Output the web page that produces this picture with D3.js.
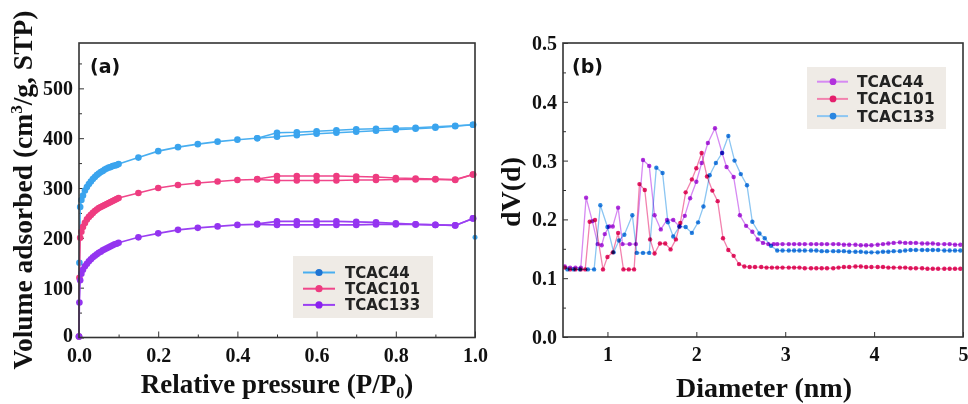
<!DOCTYPE html>
<html><head><meta charset="utf-8">
<script src="https://cdn.jsdelivr.net/npm/d3@7"></script>
<style>body{margin:0;background:#fff}svg{display:block}</style>
</head><body>
<svg id="c" width="968" height="404"></svg>
<script>
// ---------------- DATA ----------------
// Panel (a): N2 isotherms
const isoNames = ["TCAC44", "TCAC101", "TCAC133"];
const pAds = [0, 0.001, 0.003, 0.006,
  0.01, 0.015, 0.02, 0.025, 0.03, 0.035, 0.04, 0.045, 0.05, 0.055, 0.06, 0.065, 0.07, 0.075, 0.08, 0.085, 0.09, 0.095, 0.1,
  0.15, 0.2, 0.25, 0.3, 0.35, 0.4, 0.45, 0.5, 0.55, 0.6, 0.65, 0.7, 0.75, 0.8, 0.85, 0.9, 0.95, 0.995];
const pDes = [0.995, 0.95, 0.9, 0.85, 0.8, 0.75, 0.7, 0.65, 0.6, 0.55, 0.5, 0.45];
const ads44 = [2, 150, 262, 276,
  285, 295, 302, 308, 313, 318, 322, 326, 329, 332, 334, 337, 339, 341, 342, 344, 345, 346, 348,
  361, 374, 382, 388, 393, 397, 400, 403, 406, 409, 411, 413, 415, 417, 419, 421, 424, 427];
const des44 = [427, 425, 423, 421, 420, 419, 418, 416, 414, 412, 411, 400];
const ads101 = [2, 120, 200, 212,
  222, 230, 237, 242, 246, 250, 254, 257, 260, 262, 264, 266, 268, 270, 272, 274, 276, 278, 280,
  290, 300, 306, 310, 313, 316, 317, 315, 315, 315, 315, 316, 316, 317, 317, 317, 316, 327];
const des101 = [327, 317, 318, 319, 320, 322, 323, 324, 324, 324, 324, 318];
const ads133 = [2, 70, 115, 128,
  136, 143, 148, 153, 157, 161, 164, 167, 170, 172, 175, 177, 179, 181, 183, 185, 187, 188, 190,
  201, 209, 216, 220, 223, 226, 227, 226, 226, 226, 226, 226, 227, 227, 227, 226, 225, 239];
const des133 = [239, 225, 226, 227, 229, 231, 232, 233, 233, 233, 233, 228];
const strayP44 = [1.0];
const strayV44 = [201];
const xTicksA = [0, 0.2, 0.4, 0.6, 0.8, 1.0];
const yTicksA = [0, 100, 200, 300, 400, 500];

// Panel (b): pore size distribution
const psdNames = ["TCAC44", "TCAC101", "TCAC133"];
const d44 = [0.52, 0.58, 0.64, 0.70, 0.76, 0.83, 0.89, 0.935, 0.97, 1.02, 1.06, 1.12, 1.17, 1.25, 1.32, 1.40, 1.47, 1.53, 1.60, 1.67,
  1.74, 1.81, 1.87, 1.93, 2.00, 2.06, 2.13, 2.21, 2.29, 2.34, 2.42, 2.49, 2.56, 2.63, 2.69, 2.75, 2.81, 2.87];
const v44 = [0.120, 0.118, 0.118, 0.118, 0.237, 0.197, 0.158, 0.156, 0.175, 0.188, 0.188, 0.220, 0.158, 0.158, 0.158, 0.301, 0.291, 0.207, 0.183, 0.199,
  0.199, 0.188, 0.206, 0.236, 0.264, 0.296, 0.330, 0.355, 0.313, 0.289, 0.272, 0.207, 0.189, 0.179, 0.166, 0.160, 0.158, 0.158];
const d101 = [0.52, 0.58, 0.64, 0.70, 0.75, 0.80, 0.86, 0.95, 1.00, 1.06, 1.12, 1.18, 1.24, 1.30, 1.36, 1.42, 1.48, 1.53, 1.59, 1.65,
  1.71, 1.77, 1.82, 1.88, 1.95, 2.00, 2.06, 2.12, 2.18, 2.24, 2.30, 2.36, 2.42, 2.48, 2.54, 2.60, 2.66, 2.73, 2.79, 2.85];
const v101 = [0.118, 0.115, 0.115, 0.115, 0.115, 0.196, 0.199, 0.115, 0.136, 0.144, 0.177, 0.115, 0.115, 0.115, 0.260, 0.250, 0.166, 0.142, 0.159, 0.159,
  0.149, 0.166, 0.194, 0.246, 0.268, 0.287, 0.313, 0.273, 0.249, 0.231, 0.168, 0.148, 0.138, 0.124, 0.120, 0.119, 0.119, 0.119, 0.118, 0.118];
const d133 = [0.55, 0.62, 0.69, 0.78, 0.85, 0.92, 1.00, 1.07, 1.13, 1.19, 1.28, 1.33, 1.40, 1.47, 1.55, 1.62, 1.68, 1.74, 1.81, 1.88,
  1.95, 2.02, 2.08, 2.15, 2.22, 2.29, 2.36, 2.43, 2.50, 2.57, 2.63, 2.71, 2.77, 2.84];
const v133 = [0.115, 0.115, 0.115, 0.115, 0.115, 0.224, 0.187, 0.144, 0.164, 0.174, 0.207, 0.143, 0.143, 0.143, 0.288, 0.279, 0.195, 0.171, 0.188, 0.187,
  0.177, 0.195, 0.222, 0.275, 0.296, 0.313, 0.342, 0.300, 0.277, 0.258, 0.196, 0.176, 0.168, 0.155];
const tailD = [2.91, 2.97, 3.04, 3.10, 3.16, 3.22, 3.29, 3.35, 3.41, 3.47, 3.54, 3.60, 3.66, 3.72, 3.79, 3.85, 3.91, 3.97, 4.04, 4.10,
  4.16, 4.22, 4.29, 4.35, 4.41, 4.47, 4.54, 4.60, 4.66, 4.72, 4.79, 4.85, 4.91, 4.97];
const tail44 = [0.158, 0.158, 0.158, 0.158, 0.158, 0.158, 0.158, 0.158, 0.158, 0.158, 0.158, 0.158, 0.157, 0.157, 0.157, 0.156, 0.156, 0.156, 0.157, 0.158,
  0.159, 0.160, 0.161, 0.160, 0.160, 0.160, 0.159, 0.159, 0.159, 0.158, 0.158, 0.158, 0.157, 0.157];
const tail101 = [0.118, 0.118, 0.118, 0.118, 0.118, 0.117, 0.117, 0.117, 0.117, 0.117, 0.117, 0.118, 0.119, 0.119, 0.120, 0.120, 0.119, 0.119, 0.119, 0.119,
  0.118, 0.118, 0.118, 0.118, 0.117, 0.117, 0.117, 0.116, 0.116, 0.116, 0.116, 0.116, 0.116, 0.116];
const tail133 = [0.147, 0.147, 0.147, 0.147, 0.147, 0.147, 0.147, 0.147, 0.146, 0.146, 0.146, 0.146, 0.146, 0.145, 0.145, 0.145, 0.144, 0.144, 0.144, 0.145,
  0.145, 0.146, 0.146, 0.147, 0.148, 0.148, 0.148, 0.148, 0.148, 0.148, 0.147, 0.147, 0.147, 0.147];
const xTicksB = [1, 2, 3, 4, 5];
const yTicksB = [0, 0.1, 0.2, 0.3, 0.4, 0.5];

// ---------------- STYLE ----------------
const serif = "'Liberation Serif','Times New Roman',serif";
const sans = "'DejaVu Sans','Liberation Sans',sans-serif";
const colA = {TCAC44: {line: "#48aef0", dot: "#3aa4ee", leg: "#1f74d2"},
              TCAC101: {line: "#f0468a", dot: "#ee3c80", leg: "#ee3c80"},
              TCAC133: {line: "#9a40f2", dot: "#9434f0", leg: "#8a20ee"}};
const colB = {TCAC44: {line: "#d68af2", dot: "#b232dc"},
              TCAC101: {line: "#f282ae", dot: "#e41e6c"},
              TCAC133: {line: "#8cc6f2", dot: "#2a86e0"}};

const svg = d3.select("#c");
svg.append("rect").attr("width", 968).attr("height", 404).attr("fill", "#fff");

function styleAxis(g, size) {
  g.select(".domain").remove();
  g.attr("font-family", serif).attr("font-size", size).attr("font-weight", "bold");
  g.selectAll(".tick line").attr("stroke", "#333").attr("stroke-width", 1);
  g.selectAll("text").attr("fill", "#111");
}

// ---------------- PANEL A ----------------
const xA = d3.scaleLinear().domain([0, 1]).range([79, 475]);
const yA = d3.scaleLinear().domain([0, 591]).range([337.5, 43]);

const gxA = svg.append("g").attr("transform", "translate(0,337.5)")
  .call(d3.axisBottom(xA).tickValues(xTicksA).tickFormat(d3.format(".1f")).tickSizeInner(-6).tickSizeOuter(0).tickPadding(10));
styleAxis(gxA, 20);
const gxAm = svg.append("g").attr("transform", "translate(0,337.5)")
  .call(d3.axisBottom(xA).tickValues([0.1, 0.3, 0.5, 0.7, 0.9]).tickFormat("").tickSizeInner(-3).tickSizeOuter(0));
styleAxis(gxAm, 10);
const gyA = svg.append("g").attr("transform", "translate(79,0)")
  .call(d3.axisLeft(yA).tickValues(yTicksA).tickFormat(d3.format("d")).tickSizeInner(-5).tickSizeOuter(0).tickPadding(6));
styleAxis(gyA, 20);
gyA.selectAll(".tick text").filter(d => d === 0).attr("dy", "0.2em");
const gyAm = svg.append("g").attr("transform", "translate(79,0)")
  .call(d3.axisLeft(yA).tickValues([50, 150, 250, 350, 450, 550]).tickFormat("").tickSizeInner(-3).tickSizeOuter(0));
styleAxis(gyAm, 10);

const clipA = svg.append("clipPath").attr("id", "clipA");
clipA.append("rect").attr("x", 75).attr("y", 40).attr("width", 404).attr("height", 300);

const isoData = [
  {name: "TCAC44", ads: ads44, des: des44},
  {name: "TCAC101", ads: ads101, des: des101},
  {name: "TCAC133", ads: ads133, des: des133}
];
const lineA = d3.line().x(d => xA(d[0])).y(d => yA(d[1]));
const plotA = svg.append("g").attr("clip-path", "url(#clipA)");
isoData.forEach(s => {
  const c = colA[s.name];
  const adsPts = pAds.map((p, i) => [p, s.ads[i]]);
  const desPts = pDes.map((p, i) => [p, s.des[i]]);
  [adsPts, desPts].forEach(pts => {
    plotA.append("path").attr("d", lineA(pts)).attr("fill", "none")
      .attr("stroke", c.line).attr("stroke-width", 1.6);
    plotA.selectAll(null).data(pts).enter().append("circle")
      .attr("cx", d => xA(d[0])).attr("cy", d => yA(d[1])).attr("r", 3.3).attr("fill", c.dot);
  });
});
plotA.selectAll(null).data(strayP44.map((p, i) => [p, strayV44[i]])).enter().append("circle")
  .attr("cx", d => xA(d[0])).attr("cy", d => yA(d[1])).attr("r", 2.5).attr("fill", colA.TCAC44.dot);

svg.append("rect").attr("x", 79).attr("y", 43).attr("width", 396).attr("height", 294.5)
  .attr("fill", "none").attr("stroke", "#333").attr("stroke-width", 1.6);

svg.append("text").attr("x", 90).attr("y", 72.5).attr("font-family", sans).attr("font-weight", "bold")
  .attr("font-size", 19).attr("fill", "#111").text("(a)");

// legend A
const legA = svg.append("g");
legA.append("rect").attr("x", 293).attr("y", 256).attr("width", 140).attr("height", 62).attr("fill", "#efebe6");
isoNames.forEach((n, i) => {
  const yy = 272.5 + i * 16.2;
  legA.append("line").attr("x1", 303).attr("x2", 335).attr("y1", yy).attr("y2", yy)
    .attr("stroke", colA[n].line).attr("stroke-width", 2);
  legA.append("circle").attr("cx", 319).attr("cy", yy).attr("r", 3.6).attr("fill", colA[n].leg);
  legA.append("text").attr("x", 345).attr("y", yy + 5.5).attr("font-family", sans).attr("font-weight", "bold")
    .attr("font-size", 15).attr("fill", "#222").text(n);
});

// axis titles A
const tYA = svg.append("text").attr("transform", "translate(32,190) rotate(-90)").attr("text-anchor", "middle")
  .attr("font-family", serif).attr("font-weight", "bold").attr("font-size", 27.5).attr("fill", "#111");
tYA.append("tspan").text("Volume adsorbed (cm");
tYA.append("tspan").attr("dy", -10).attr("font-size", 17).text("3");
tYA.append("tspan").attr("dy", 10).text("/g, STP)");
const tXA = svg.append("text").attr("x", 277).attr("y", 393).attr("text-anchor", "middle")
  .attr("font-family", serif).attr("font-weight", "bold").attr("font-size", 27).attr("fill", "#111");
tXA.append("tspan").text("Relative pressure (P/P");
tXA.append("tspan").attr("dy", 5).attr("font-size", 16).text("0");
tXA.append("tspan").attr("dy", -5).text(")");

// ---------------- PANEL B ----------------
const xB = d3.scaleLinear().domain([0.5, 5]).range([563, 963]);
const yB = d3.scaleLinear().domain([0, 0.5]).range([337, 43]);

const gxB = svg.append("g").attr("transform", "translate(0,337)")
  .call(d3.axisBottom(xB).tickValues(xTicksB).tickFormat(d3.format("d")).tickSizeInner(-5).tickSizeOuter(0).tickPadding(10));
styleAxis(gxB, 20);
const gyB = svg.append("g").attr("transform", "translate(563,0)")
  .call(d3.axisLeft(yB).tickValues(yTicksB).tickFormat(d3.format(".1f")).tickSizeInner(-5).tickSizeOuter(0).tickPadding(6));
styleAxis(gyB, 20);
const gyBm = svg.append("g").attr("transform", "translate(563,0)")
  .call(d3.axisLeft(yB).tickValues([0.05, 0.15, 0.25, 0.35, 0.45]).tickFormat("").tickSizeInner(-3).tickSizeOuter(0));
styleAxis(gyBm, 10);

const clipB = svg.append("clipPath").attr("id", "clipB");
clipB.append("rect").attr("x", 563).attr("y", 43).attr("width", 400).attr("height", 294);

const psdData = [
  {name: "TCAC101", d: d101.concat(tailD), v: v101.concat(tail101)},
  {name: "TCAC133", d: d133.concat(tailD), v: v133.concat(tail133)},
  {name: "TCAC44", d: d44.concat(tailD), v: v44.concat(tail44)}
];
const lineB = d3.line().x(d => xB(d[0])).y(d => yB(d[1]));
const plotB = svg.append("g").attr("clip-path", "url(#clipB)");
psdData.forEach(s => {
  const pts = s.d.map((x, i) => [x, s.v[i]]);
  plotB.append("path").attr("d", lineB(pts)).attr("fill", "none")
    .attr("stroke", colB[s.name].line).attr("stroke-width", 1.3).style("mix-blend-mode", "multiply");
});
psdData.forEach(s => {
  const pts = s.d.map((x, i) => [x, s.v[i]]);
  plotB.append("g").style("mix-blend-mode", "multiply").selectAll("circle").data(pts).enter().append("circle")
    .attr("cx", d => xB(d[0])).attr("cy", d => yB(d[1])).attr("r", 2.2).attr("fill", colB[s.name].dot);
});

svg.append("rect").attr("x", 563).attr("y", 43).attr("width", 400).attr("height", 294)
  .attr("fill", "none").attr("stroke", "#333").attr("stroke-width", 1.6);

svg.append("text").attr("x", 572).attr("y", 72.5).attr("font-family", sans).attr("font-weight", "bold")
  .attr("font-size", 19).attr("fill", "#111").text("(b)");

// legend B
const legB = svg.append("g");
legB.append("rect").attr("x", 807).attr("y", 67).attr("width", 139).attr("height", 62).attr("fill", "#efebe6");
psdNames.forEach((n, i) => {
  const yy = 81.7 + i * 17.2;
  legB.append("line").attr("x1", 817).attr("x2", 848).attr("y1", yy).attr("y2", yy)
    .attr("stroke", colB[n].line).attr("stroke-width", 2);
  legB.append("circle").attr("cx", 833).attr("cy", yy).attr("r", 3.4).attr("fill", colB[n].dot);
  legB.append("text").attr("x", 857).attr("y", yy + 5.5).attr("font-family", sans).attr("font-weight", "bold")
    .attr("font-size", 15.5).attr("fill", "#222").text(n);
});

svg.append("text").attr("transform", "translate(520,192) rotate(-90)").attr("text-anchor", "middle")
  .attr("font-family", serif).attr("font-weight", "bold").attr("font-size", 28).attr("fill", "#111").text("dV(d)");
svg.append("text").attr("x", 764).attr("y", 397).attr("text-anchor", "middle")
  .attr("font-family", serif).attr("font-weight", "bold").attr("font-size", 28).attr("fill", "#111").text("Diameter (nm)");
</script>
</body></html>
